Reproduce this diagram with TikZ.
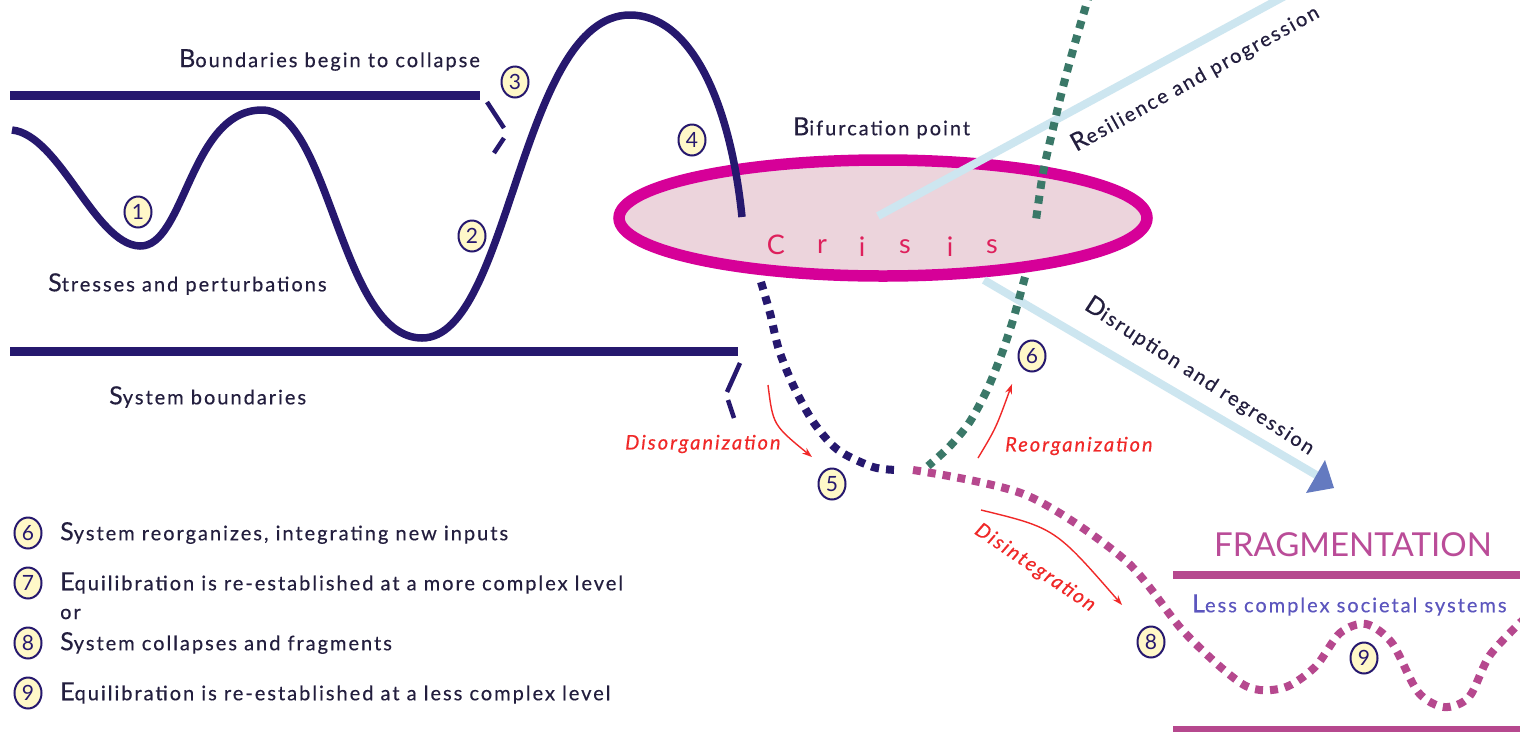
\documentclass[tikz,border=0pt]{standalone}
\usepackage{fontspec}
\setmainfont{Lato}
\newfontfamily\labfont[LetterSpace=10,FakeBold=0.4]{Lato}
\usetikzlibrary{shapes.geometric,arrows.meta}
\definecolor{navy}{RGB}{38,24,110}
\definecolor{ink}{RGB}{35,30,62}
\definecolor{ringc}{RGB}{214,0,152}
\definecolor{ringfill}{RGB}{236,212,220}
\definecolor{lblue}{RGB}{205,230,240}
\definecolor{slate}{RGB}{100,122,192}
\definecolor{teal}{RGB}{58,120,104}
\definecolor{plum}{RGB}{182,72,142}
\definecolor{rlab}{RGB}{240,40,40}
\definecolor{crisisc}{RGB}{222,32,92}
\definecolor{fragc}{RGB}{186,76,152}
\definecolor{lessc}{RGB}{92,86,190}
\definecolor{cream}{RGB}{255,248,200}
\newcommand\bigini[1]{{\fontsize{25}{25}\selectfont #1}}
\tikzset{
  lbl/.style={font=\labfont\fontsize{20}{24}\selectfont, text=ink, inner sep=0pt, anchor=west},
  num/.style={ellipse, draw=navy, line width=2pt, fill=cream, inner sep=0pt,
    minimum width=27pt, minimum height=31pt, text=navy, font=\fontsize{21}{21}\selectfont},
  bound/.style={navy, line width=9pt},
  brk/.style={navy, line width=4.5pt},
  dots/.style={line width=8pt, dash pattern=on 8pt off 7pt},
  redarr/.style={rlab, line width=1.4pt, -{Stealth[length=10pt,width=7pt]}},
  redlbl/.style={font=\labfont\itshape\fontsize{20}{24}\selectfont, text=rlab, inner sep=0pt},
  crl/.style={font=\fontsize{27}{27}\selectfont, text=crisisc, inner sep=0pt},
}
\begin{document}
\begin{tikzpicture}[x=1pt,y=-1pt]
\clip (0,0) rectangle (1520,732);
\fill[white] (0,0) rectangle (1520,732);

% system boundaries
\coordinate (tb1) at (10,95);  \coordinate (tb2) at (480,95);
\coordinate (bb1) at (10,351); \coordinate (bb2) at (738,351);
\draw[bound] (tb1) -- (tb2);
\draw[bound] (bb1) -- (bb2);
% breaks
\draw[brk] (487,102) -- (504,128);
\draw[brk] (504,138) -- (494,153);
\draw[brk] (740,363) -- (727,392);
\draw[brk] (728,400) -- (734,418);

% crisis ellipse
\node[ellipse, draw=ringc, line width=11.5pt, fill=ringfill, minimum width=528pt, minimum height=116pt, inner sep=0pt] (crisis) at (883,218) {};

% wave
\draw[navy, line width=7.5pt] (12,130) .. controls (60,135) and (95,245) .. (140,246)
  .. controls (185,247) and (190,110) .. (262,110)
  .. controls (330,110) and (340,338) .. (422,338)
  .. controls (510,338) and (520,15) .. (630,15)
  .. controls (690,15) and (730,100) .. (742,217);

% resilience line
\coordinate (r1) at (878,216); \coordinate (r2) at (1296,-10);
\draw[lblue, line width=8pt] (r1) -- (r2);
% disruption line
\coordinate (d1) at (984,280); \coordinate (d2) at (1318,476);
\draw[lblue, line width=8pt] (d1) -- (d2);
\fill[slate] (1325,460) -- (1306,493) -- (1334,488) -- cycle;

% green dotted
\draw[teal, dots] plot[smooth] coordinates {(1090,-8) (1075,43) (1063,87) (1052,133) (1043,173) (1036,220)};
\draw[teal, dots] plot[smooth] coordinates {(1025,277) (1013,320) (1002,353) (987,390) (969,423) (949,447) (928,466)};
% navy dotted
\draw[navy, dots] plot[smooth] coordinates {(761,282) (770,313) (779,350) (794,387) (814,423) (838,450) (873,467) (898,470)};
% plum dotted
\draw[plum, dots] plot[smooth] coordinates {(913,470) (1026,495) (1125,560) (1185,633) (1244,685) (1283,688) (1315,667) (1340,633) (1366,624) (1392,643) (1418,692) (1444,707) (1469,697) (1490,655) (1525,618)};

% fragmentation lines
\coordinate (f1) at (1173,575); \coordinate (f2) at (1520,575);
\coordinate (g1) at (1173,729); \coordinate (g2) at (1520,729);
\draw[plum, line width=8pt] (f1) -- (f2);
\draw[plum, line width=6pt] (g1) -- (g2);

% crisis letters
\node[crl] (cC) at (776,245) {C};
\node[crl] (cr) at (822,247) {r};
\node[crl] (ci) at (862,247) {i};
\node[crl] (cs) at (905,247) {s};
\node[crl] (ci2) at (950,247) {i};
\node[crl] (cs2) at (992,247) {s};

% labels
\node[lbl] (tBound) at (179,60) {\bigini{B}oundaries begin to collapse};
\node[lbl] (tStress) at (48,284) {\bigini{S}tresses and perturbations};
\node[lbl] (tSys) at (109,397) {\bigini{S}ystem boundaries};
\node[lbl] (tBif) at (793,128) {\bigini{B}ifurcation point};
\node[lbl, anchor=center, rotate=29] (tRes) at (1195,78) {\bigini{R}esilience and progression};
\node[lbl, anchor=center, rotate=-33] (tDis) at (1200,376) {\bigini{D}isruption and regression};

\node[redlbl, anchor=west] (tDisorg) at (625,444) {Disorganization};
\node[redlbl, anchor=west] (tReorg) at (1005,446) {Reorganization};
\node[redlbl, anchor=center, rotate=-34] (tDisint) at (1035,568) {Disintegration};

\draw[redarr] (768,385) .. controls (773,425) .. (812,457);
\draw[redarr] (978,458) .. controls (996,428) .. (1012,384);
\draw[redarr] (981,510) .. controls (1055,528) .. (1122,605);

\node[font=\fontsize{33}{33}\selectfont, text=fragc, inner sep=0pt] (tFrag) at (1353,545) {FRAGMENTATION};
\node[lbl, text=lessc] (tLess) at (1192,605) {\bigini{L}ess complex societal systems};

% numbered markers
\node[num] (n1) at (138,212) {1};
\node[num] (n2) at (472,236) {2};
\node[num] (n3) at (515,82) {3};
\node[num] (n4) at (692,140) {4};
\node[num] (n5) at (832,484) {5};
\node[num] (n6) at (1032,356) {6};
\node[num] (n8) at (1151,642) {8};
\node[num] (n9) at (1364,658) {9};

% legend
\node[num] (l6) at (28,533) {6};
\node[num] (l7) at (28,583) {7};
\node[num] (l8) at (28,643) {8};
\node[num] (l9) at (28,693) {9};
\node[lbl] (t6) at (60,533) {\bigini{S}ystem reorganizes, integrating new inputs};
\node[lbl] (t7) at (60,583) {\bigini{E}quilibration is re-established at a more complex level};
\node[lbl] (tor) at (60,614) {or};
\node[lbl] (t8) at (60,643) {\bigini{S}ystem collapses and fragments};
\node[lbl] (t9) at (60,693) {\bigini{E}quilibration is re-established at a less complex level};
\end{tikzpicture}
\end{document}
